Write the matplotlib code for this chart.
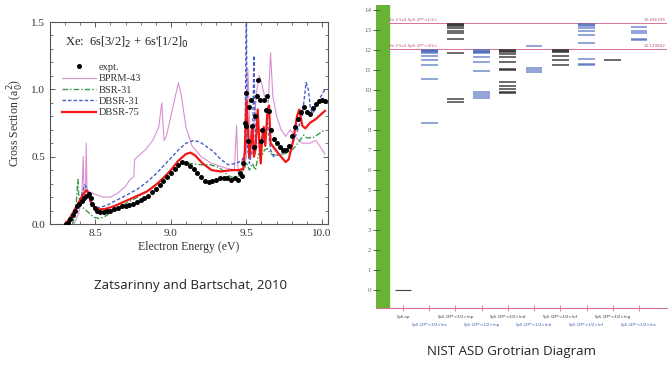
import matplotlib
matplotlib.use("Agg")
import matplotlib.pyplot as plt
from matplotlib.patches import Rectangle
from matplotlib.ticker import MultipleLocator, FormatStrFormatter

# ---- left panel: Xe 6s[3/2]2 + 6s'[1/2]0 excitation cross section ----
expt_e = [8.305, 8.32, 8.335, 8.35, 8.365, 8.38, 8.395, 8.41, 8.425, 8.44, 8.455,
          8.47, 8.48, 8.495, 8.51, 8.53, 8.555, 8.58, 8.60, 8.625, 8.65, 8.675,
          8.70, 8.725, 8.75, 8.775, 8.80, 8.825, 8.85, 8.875, 8.90, 8.925, 8.95,
          8.975, 9.00, 9.025, 9.05, 9.075, 9.10, 9.125, 9.15, 9.175, 9.20, 9.225,
          9.25, 9.275, 9.30, 9.325, 9.35, 9.375, 9.40, 9.425, 9.445, 9.46, 9.47,
          9.48, 9.49, 9.495, 9.50, 9.51, 9.52, 9.53, 9.54, 9.55, 9.558, 9.57,
          9.578, 9.587, 9.596, 9.605, 9.616, 9.627, 9.638, 9.65, 9.66, 9.68, 9.70,
          9.72, 9.74, 9.76, 9.78, 9.80, 9.82, 9.84, 9.86, 9.88, 9.90, 9.92, 9.94,
          9.96, 9.98, 10.00, 10.02]
expt_cs = [0.00, 0.01, 0.04, 0.07, 0.10, 0.13, 0.15, 0.17, 0.19, 0.21, 0.22,
           0.19, 0.15, 0.12, 0.10, 0.09, 0.09, 0.10, 0.10, 0.11, 0.12, 0.13,
           0.13, 0.14, 0.15, 0.16, 0.18, 0.19, 0.21, 0.24, 0.26, 0.29, 0.32,
           0.35, 0.38, 0.41, 0.44, 0.46, 0.45, 0.43, 0.41, 0.38, 0.35, 0.32,
           0.31, 0.32, 0.33, 0.34, 0.34, 0.34, 0.33, 0.34, 0.33, 0.38, 0.36,
           0.45, 0.75, 0.97, 0.73, 0.62, 0.87, 0.92, 0.73, 0.57, 0.80, 0.95,
           1.07, 0.92, 0.62, 0.70, 0.92, 0.85, 0.95, 0.84, 0.70, 0.63, 0.60,
           0.57, 0.55, 0.55, 0.58, 0.65, 0.72, 0.78, 0.83, 0.87, 0.83, 0.82, 0.86,
           0.89, 0.91, 0.92, 0.91]

bprm43_e = [8.36, 8.39, 8.41, 8.42, 8.425, 8.435, 8.44, 8.445, 8.46, 8.50, 8.55,
            8.60, 8.65, 8.70, 8.73, 8.755, 8.76, 8.78, 8.83, 8.88, 8.92, 8.94,
            8.955, 8.97, 9.00, 9.03, 9.05, 9.07, 9.10, 9.14, 9.20, 9.27, 9.35,
            9.42, 9.435, 9.445, 9.47, 9.49, 9.50, 9.51, 9.52, 9.53, 9.55, 9.57,
            9.585, 9.60, 9.62, 9.645, 9.66, 9.675, 9.70, 9.73, 9.76, 9.79, 9.82,
            9.87, 9.92, 9.96, 10.02]
bprm43_cs = [0.0, 0.08, 0.18, 0.50, 0.22, 0.25, 0.60, 0.25, 0.24, 0.22, 0.20,
             0.20, 0.23, 0.28, 0.33, 0.35, 0.48, 0.50, 0.55, 0.62, 0.72, 0.90,
             0.62, 0.65, 0.80, 0.95, 1.05, 0.95, 0.72, 0.58, 0.50, 0.45, 0.42,
             0.40, 0.73, 0.38, 0.38, 0.45, 0.50, 1.15, 0.80, 0.58, 0.75, 1.00,
             1.10, 1.05, 0.95, 0.90, 1.27, 0.95, 0.80, 0.70, 0.65, 0.70, 0.65,
             0.60, 0.60, 0.62, 0.52]

bsr31_e = [8.35, 8.37, 8.38, 8.385, 8.39, 8.40, 8.42, 8.45, 8.49, 8.53, 8.57,
           8.62, 8.70, 8.78, 8.85, 8.92, 8.98, 9.03, 9.08, 9.13, 9.20, 9.26,
           9.32, 9.38, 9.42, 9.46, 9.49, 9.50, 9.52, 9.54, 9.56, 9.58, 9.60,
           9.62, 9.64, 9.66, 9.70, 9.74, 9.78, 9.82, 9.86, 9.88, 9.90, 9.94,
           9.98, 10.02]
bsr31_cs = [0.0, 0.10, 0.25, 0.33, 0.22, 0.14, 0.12, 0.09, 0.05, 0.04, 0.06,
            0.10, 0.15, 0.20, 0.25, 0.31, 0.38, 0.43, 0.45, 0.45, 0.44, 0.44,
            0.42, 0.36, 0.34, 0.36, 0.42, 0.46, 0.40, 0.45, 0.40, 0.52, 0.50,
            0.55, 0.56, 0.52, 0.51, 0.52, 0.53, 0.57, 0.63, 0.66, 0.64, 0.64,
            0.67, 0.70]

dbsr31_e = [8.30, 8.34, 8.38, 8.41, 8.43, 8.445, 8.46, 8.48, 8.52, 8.58, 8.62,
            8.70, 8.78, 8.84, 8.90, 8.95, 9.00, 9.05, 9.10, 9.15, 9.19, 9.23,
            9.28, 9.33, 9.38, 9.43, 9.47, 9.49, 9.50, 9.505, 9.52, 9.54, 9.55,
            9.56, 9.58, 9.60, 9.62, 9.64, 9.66, 9.68, 9.72, 9.76, 9.80, 9.84,
            9.87, 9.895, 9.91, 9.925, 9.94, 9.97, 10.02]
dbsr31_cs = [0.0, 0.04, 0.12, 0.22, 0.29, 0.27, 0.18, 0.13, 0.12, 0.14, 0.165,
             0.21, 0.26, 0.31, 0.37, 0.43, 0.49, 0.55, 0.60, 0.62, 0.61, 0.58,
             0.54, 0.48, 0.44, 0.45, 0.47, 0.52, 1.60, 0.60, 0.45, 0.55, 1.25,
             0.55, 0.60, 0.62, 0.65, 0.75, 0.55, 0.50, 0.52, 0.54, 0.58, 0.70,
             0.80, 1.05, 1.00, 0.85, 0.82, 0.90, 1.00]

dbsr75_e = [8.30, 8.33, 8.36, 8.39, 8.42, 8.44, 8.455, 8.47, 8.49, 8.52, 8.56,
            8.62, 8.70, 8.78, 8.84, 8.90, 8.95, 9.00, 9.05, 9.10, 9.13, 9.16,
            9.21, 9.27, 9.33, 9.40, 9.45, 9.48, 9.49, 9.50, 9.51, 9.52, 9.53,
            9.54, 9.55, 9.56, 9.575, 9.585, 9.595, 9.605, 9.615, 9.625, 9.64,
            9.65, 9.66, 9.68, 9.70, 9.73, 9.76, 9.78, 9.81, 9.835, 9.85, 9.87,
            9.89, 9.92, 9.96, 10.02]
dbsr75_cs = [0.0, 0.04, 0.10, 0.16, 0.22, 0.25, 0.23, 0.17, 0.13, 0.11, 0.11,
             0.13, 0.17, 0.21, 0.24, 0.29, 0.34, 0.40, 0.47, 0.52, 0.53, 0.51,
             0.45, 0.40, 0.39, 0.40, 0.40, 0.41, 0.55, 0.92, 0.72, 0.50, 0.60,
             0.73, 0.50, 0.55, 0.85, 0.62, 0.45, 0.65, 0.72, 0.58, 0.85,
             0.88, 0.60, 0.57, 0.54, 0.50, 0.46, 0.48, 0.62, 0.80, 0.85, 0.73,
             0.71, 0.75, 0.78, 0.84]

# ---- right panel: NIST Grotrian diagram levels (eV) per configuration column ----
column_labels_top = ["5p6.np", "5p5.(2P*<3/2>)np", "5p5.(2P*<3/2>)nd",
                     "5p5.(2P*<3/2>)nf", "5p5.(2P*<3/2>)ng"]
column_labels_bottom = ["5p5.(2P*<3/2>)ns", "5p5.(2P*<1/2>)np", "5p5.(2P*<1/2>)nd",
                        "5p5.(2P*<1/2>)nf", "5p5.(2P*<1/2>)ns"]
levels = [
    [0.0],
    [12.0, 11.97, 11.93, 11.90, 11.85, 11.70, 11.50, 11.25, 10.57, 8.35],
    [13.30, 13.25, 13.20, 13.10, 12.95, 12.85, 12.55, 11.85, 9.55, 9.42],
    [12.0, 11.96, 11.92, 11.88, 11.83, 11.65, 11.42, 10.97, 9.90, 9.80, 9.70, 9.60],
    [12.0, 11.95, 11.90, 11.80, 11.65, 11.42, 11.05, 11.0, 10.40, 10.20, 10.05, 9.90, 9.85],
    [12.20, 11.08, 11.0, 10.92],
    [12.0, 11.95, 11.90, 11.72, 11.50, 11.25],
    [13.30, 13.25, 13.20, 13.12, 12.95, 12.75, 12.35, 11.55, 11.30, 11.27],
    [11.50],
    [13.15, 12.95, 12.85, 12.55, 12.50],
]
ion_limits = [13.33, 12.03]
ion_limit_values = ["13.436395", "12.129842"]
ion_limit_names = ["Xe II 5s2.5p5 2P*<1/2>", "Xe II 5s2.5p5 2P*<3/2>"]

plt.rcParams["font.family"] = ["Liberation Serif", "DejaVu Serif"]

fig = plt.figure(figsize=(6.7, 3.65), dpi=100)

# left panel
ax = fig.add_axes([0.0746, 0.3863, 0.4149, 0.5534])
ax.plot(bprm43_e, bprm43_cs, color="#d98fd2", lw=0.8, label="BPRM-43")
ax.plot(bsr31_e, bsr31_cs, color="#3a9a4a", lw=1.0, ls=(0, (4, 1.5, 1, 1.5)), label="BSR-31")
ax.plot(dbsr31_e, dbsr31_cs, color="#4a5cc8", lw=1.0, ls=(0, (2.5, 1.5)), label="DBSR-31")
ax.plot(dbsr75_e, dbsr75_cs, color="#f01818", lw=1.6, label="DBSR-75")
ax.plot(expt_e, expt_cs, "o", color="black", ms=3.6, mec="none", label="expt.", zorder=5)

ax.set_xlim(8.2, 10.04)
ax.set_ylim(0, 1.5)
ax.xaxis.set_major_locator(MultipleLocator(0.5))
ax.xaxis.set_minor_locator(MultipleLocator(0.1))
ax.yaxis.set_major_locator(MultipleLocator(0.5))
ax.yaxis.set_minor_locator(MultipleLocator(0.1))
ax.xaxis.set_major_formatter(FormatStrFormatter("%.1f"))
ax.yaxis.set_major_formatter(FormatStrFormatter("%.1f"))
ax.tick_params(which="both", direction="in", top=True, right=True,
               labelsize=8, colors="#444444", labelcolor="#333333")
ax.tick_params(which="major", length=3.5, width=0.6)
ax.tick_params(which="minor", length=2, width=0.5)
for sp in ax.spines.values():
    sp.set_color("#555555")
    sp.set_linewidth(0.8)
ax.set_xlabel("Electron Energy (eV)", fontsize=8.5, color="#333333", labelpad=2)
ax.set_ylabel(r"Cross Section (a$_0^2$)", fontsize=8.5, color="#333333", labelpad=4)
ax.text(0.055, 0.88, r"Xe:  6s[3/2]$_2$ + 6s'[1/2]$_0$", transform=ax.transAxes,
        fontsize=9, color="#222222")

handles, labels = ax.get_legend_handles_labels()
order = [4, 0, 1, 2, 3]
ax.legend([handles[i] for i in order], [labels[i] for i in order],
          loc="upper left", bbox_to_anchor=(0.03, 0.82), frameon=False,
          fontsize=7.5, handlelength=3.2, handletextpad=0.3, labelspacing=0.2,
          borderaxespad=0.0, labelcolor="#333333")

fig.text(0.284, 0.219, "Zatsarinny and Bartschat, 2010", ha="center", va="center",
         fontsize=9.5, family=["Open Sans", "DejaVu Sans"], color="#222222")

# right panel
gx = fig.add_axes([0.5612, 0.1562, 0.4343, 0.8301])
gx.set_xlim(-1.03, 10.07)
gx.set_ylim(-0.9, 14.25)
gx.add_patch(Rectangle((0, 0), 0.045, 1, transform=gx.transAxes,
                       color="#67b334", zorder=1))
for col, lv in enumerate(levels):
    c = "#222222" if col % 2 == 0 else "#4466bb"
    a = 0.85 if col % 2 == 0 else 0.75
    w = 0.8 if col == 0 else 1.1
    gx.hlines(lv, col - 0.32, col + 0.32, colors=c, lw=w, alpha=a, zorder=3)

for y, val, name in zip(ion_limits, ion_limit_values, ion_limit_names):
    gx.axhline(y, xmin=0.04, xmax=1.0, color="#d8709a", lw=0.7, zorder=2)
    gx.text(-0.55, y + 0.08, name, fontsize=3, color="#c0507a", va="bottom",
            family=["DejaVu Sans"])
    gx.text(10.0, y + 0.08, val, fontsize=3, color="#c0507a", va="bottom",
            ha="right", family=["DejaVu Sans"])

gx.set_yticks(range(0, 15))
gx.tick_params(axis="y", direction="inout", length=5, width=0.6, colors="#444444",
               labelsize=5, labelcolor="#666666", pad=1)
gx.set_xticks(range(len(levels)))
gx.set_xticklabels([])
gx.tick_params(axis="x", direction="inout", length=4, width=0.6, colors="#d8709a")
for name in ["top", "right", "left"]:
    gx.spines[name].set_visible(False)
gx.spines["bottom"].set_color("#d8709a")
gx.spines["bottom"].set_linewidth(0.8)

for i, lab in enumerate(column_labels_top):
    gx.text(2 * i, -1.35, lab, ha="center", va="center", fontsize=2.8,
            color="#333333", family=["DejaVu Sans"], clip_on=False)
for i, lab in enumerate(column_labels_bottom):
    gx.text(2 * i + 1, -1.75, lab, ha="center", va="center", fontsize=2.8,
            color="#3355aa", family=["DejaVu Sans"], clip_on=False)

fig.text(0.764, 0.036, "NIST ASD Grotrian Diagram", ha="center", va="center",
         fontsize=9.5, family=["Open Sans", "DejaVu Sans"], color="#222222")

fig.savefig("out.png", dpi=100, facecolor="white")
